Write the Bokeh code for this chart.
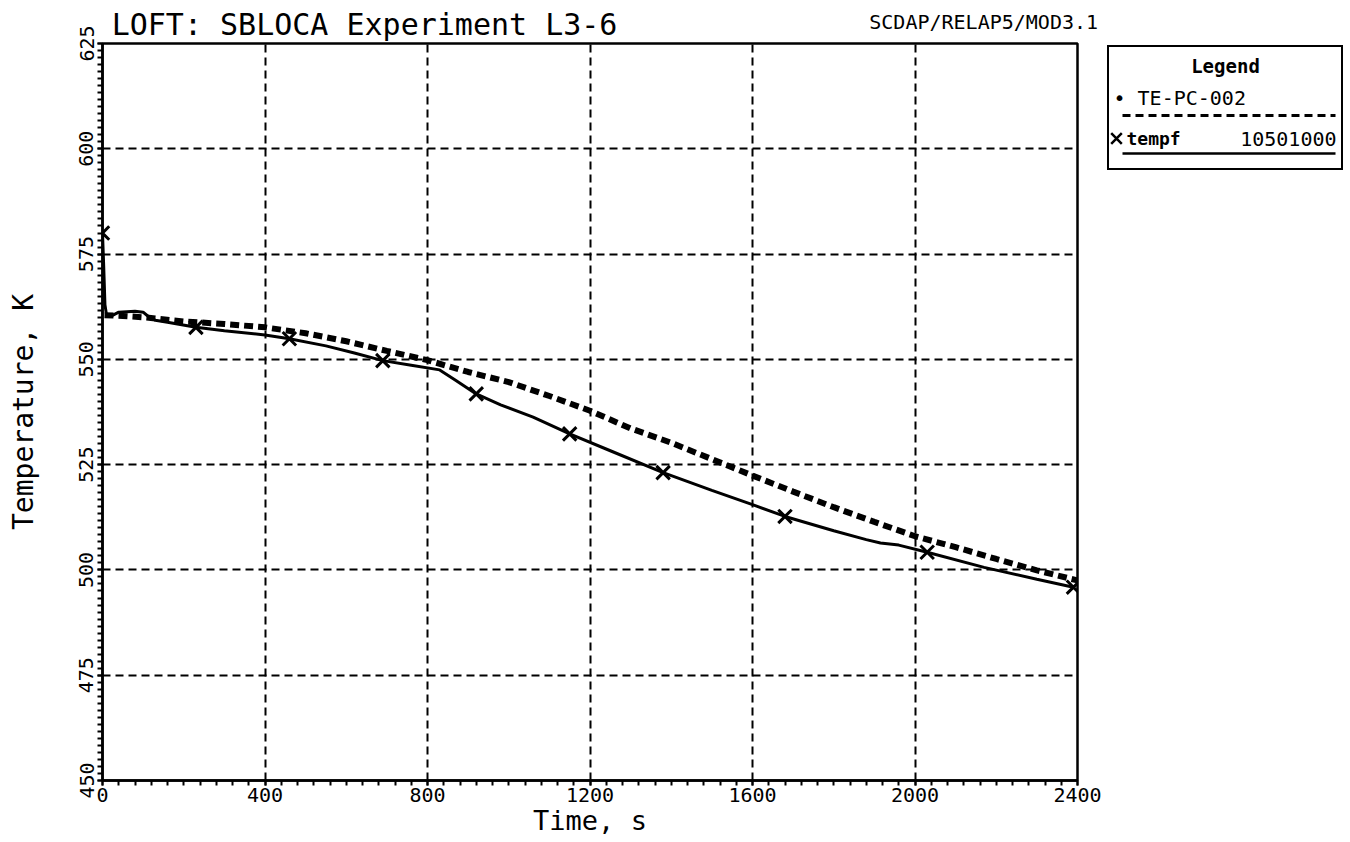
from bokeh.plotting import figure
from bokeh.models import (Range1d, SingleIntervalTicker, FixedTicker, LinearAxis,
                          Spacer, ColumnDataSource)
from bokeh.layouts import row, column
from bokeh.core.properties import value
from bokeh.embed import file_html
from bokeh.resources import INLINE

# ---------------- data ----------------
title_left = "LOFT: SBLOCA Experiment L3-6"
title_right = "SCDAP/RELAP5/MOD3.1"
x_label = "Time, s"
y_label = "Temperature, K"

exp_name = "TE-PC-002"
calc_name = "tempf"
calc_id = "10501000"

# experimental TE-PC-002 (dashed)
exp_time = [5, 50, 100, 200, 300, 400, 500, 600, 700, 800, 900, 1000, 1100,
            1200, 1300, 1400, 1500, 1600, 1700, 1800, 1900, 2000, 2100, 2200,
            2300, 2400]
exp_temp = [560.5, 560.3, 560.0, 559.0, 558.4, 557.6, 556.2, 554.3, 552.0,
            549.8, 547.0, 544.6, 541.3, 537.8, 533.6, 530.2, 526.3, 522.4,
            518.6, 514.9, 511.4, 508.0, 505.4, 502.6, 499.9, 497.5]

# calculated tempf 10501000 (solid)
calc_time = [0, 3, 6, 10, 20, 40, 60, 80, 100, 115, 130, 160, 230, 300, 400,
             460, 550, 620, 690, 760, 830, 870, 920, 980, 1060, 1150, 1250,
             1380, 1500, 1600, 1680, 1800, 1880, 1915, 1960, 2030, 2170, 2300,
             2390]
calc_temp = [580.0, 572.0, 563.0, 560.5, 560.2, 561.2, 561.3, 561.4, 561.2,
             560.0, 559.3, 558.8, 557.6, 556.8, 555.8, 554.9, 553.2, 551.5,
             549.7, 548.6, 547.5, 545.0, 541.8, 539.2, 536.3, 532.3, 528.3,
             523.1, 518.9, 515.5, 512.7, 509.3, 507.2, 506.4, 505.9, 504.2,
             500.6, 497.8, 495.9]

# marker points on the calculated curve
mark_time = [0, 230, 460, 690, 920, 1150, 1380, 1680, 2030, 2390]
mark_temp = [580.0, 557.6, 554.9, 549.7, 541.8, 532.3, 523.1, 512.7, 504.2, 495.9]

x_tick_interval = 400
y_tick_interval = 25

# horizontal anchor (in time units) of the two header texts
title_left_at = 645
title_right_at = 2169

FONT = "DejaVu Sans Mono"

# ---------------- main figure ----------------
p = figure(frame_width=975, frame_height=737, output_backend="svg",
           toolbar_location=None, x_range=Range1d(0, 2400),
           y_range=Range1d(450, 625),
           min_border_left=102, min_border_right=30, min_border_top=43,
           min_border_bottom=60)

p.background_fill_color = "white"
p.border_fill_color = "white"
p.outline_line_color = "black"
p.outline_line_width = 2.5

p.xaxis.ticker = SingleIntervalTicker(interval=x_tick_interval, num_minor_ticks=10)
p.yaxis.ticker = SingleIntervalTicker(interval=y_tick_interval, num_minor_ticks=15)

for ax in (p.xaxis[0], p.yaxis[0]):
    ax.axis_line_color = "black"
    ax.axis_line_width = 2.5
    ax.major_tick_line_color = "black"
    ax.major_tick_line_width = 2
    ax.minor_tick_line_color = "black"
    ax.minor_tick_line_width = 2
    ax.major_tick_in = 0
    ax.major_tick_out = 5
    ax.minor_tick_in = 0
    ax.minor_tick_out = 5
    ax.major_label_text_font = FONT
    ax.major_label_text_font_size = "20px"
    ax.major_label_text_color = "black"
    ax.axis_label_text_font = FONT
    ax.axis_label_text_font_style = "normal"
    ax.axis_label_text_color = "black"

p.xaxis.axis_label = x_label
p.xaxis.axis_label_text_font_size = "27px"
p.xaxis.major_label_standoff = 2
p.xaxis.axis_label_standoff = 0

p.yaxis.axis_label = y_label
p.yaxis.axis_label_text_font_size = "28px"
p.yaxis.major_label_standoff = 4
p.yaxis.axis_label_standoff = 37
p.yaxis.major_label_orientation = "vertical"

p.xgrid.grid_line_color = "black"
p.ygrid.grid_line_color = "black"
p.xgrid.grid_line_width = 2
p.ygrid.grid_line_width = 2
p.xgrid.grid_line_dash = "8 5"
p.ygrid.grid_line_dash = "8 5"

# header texts carried by two label-only axes above the frame
def header_axis(at, text, size, standoff):
    return LinearAxis(ticker=FixedTicker(ticks=[at]),
                      major_label_overrides={at: text},
                      axis_line_color=None, major_tick_line_color=None,
                      minor_tick_line_color=None, major_tick_in=0,
                      major_tick_out=0, minor_tick_in=0, minor_tick_out=0,
                      major_label_standoff=standoff,
                      major_label_text_font=FONT,
                      major_label_text_font_size=size,
                      major_label_text_color="black")

p.add_layout(header_axis(title_right_at, title_right, "20px", 10), "above")
p.add_layout(header_axis(title_left_at, title_left, "30px", -35), "above")

exp_src = ColumnDataSource(dict(t=exp_time, T=exp_temp))
calc_src = ColumnDataSource(dict(t=calc_time, T=calc_temp))
mark_src = ColumnDataSource(dict(t=mark_time, T=mark_temp))

p.line("t", "T", source=exp_src, line_color="black", line_width=6,
       line_dash="9 5")
p.line("t", "T", source=calc_src, line_color="black", line_width=3)
p.scatter("t", "T", source=mark_src, marker="x", size=19,
          line_color="black", line_width=3)

# ---------------- legend box ----------------
LW, LH = 236, 125
leg = figure(width=LW, height=LH, output_backend="svg", toolbar_location=None,
             x_range=Range1d(0, LW), y_range=Range1d(LH, 0),
             x_axis_type=None, y_axis_type=None, min_border=0)
leg.xgrid.visible = False
leg.ygrid.visible = False
leg.outline_line_color = "black"
leg.outline_line_width = 3
leg.background_fill_color = "white"
leg.border_fill_color = "white"

leg.text(x=[LW / 2], y=[20], text=["Legend"], text_font=value(FONT),
         text_font_size=value("19px"), text_font_style="bold",
         text_align="center", text_baseline="middle", text_color="black")
leg.text(x=[6], y=[52], text=["\u2022 " + exp_name], text_font=value(FONT),
         text_font_size=value("20px"), text_align="left",
         text_baseline="middle", text_color="black")
leg.line(x=[15, 228], y=[70, 70], line_color="black", line_width=3,
         line_dash="8 5")
leg.scatter(x=[9], y=[93], marker="x", size=15, line_color="black",
            line_width=2.5)
leg.text(x=[19], y=[93], text=[calc_name], text_font=value(FONT),
         text_font_size=value("18px"), text_font_style="bold",
         text_align="left", text_baseline="middle", text_color="black")
leg.text(x=[229], y=[93], text=[calc_id], text_font=value(FONT),
         text_font_size=value("20px"), text_align="right",
         text_baseline="middle", text_color="black")
leg.line(x=[15, 228], y=[108, 108], line_color="black", line_width=2.5)

layout = row(p, column(Spacer(height=45, width=LW), leg))

open("out.html", "w").write(file_html(layout, INLINE))
